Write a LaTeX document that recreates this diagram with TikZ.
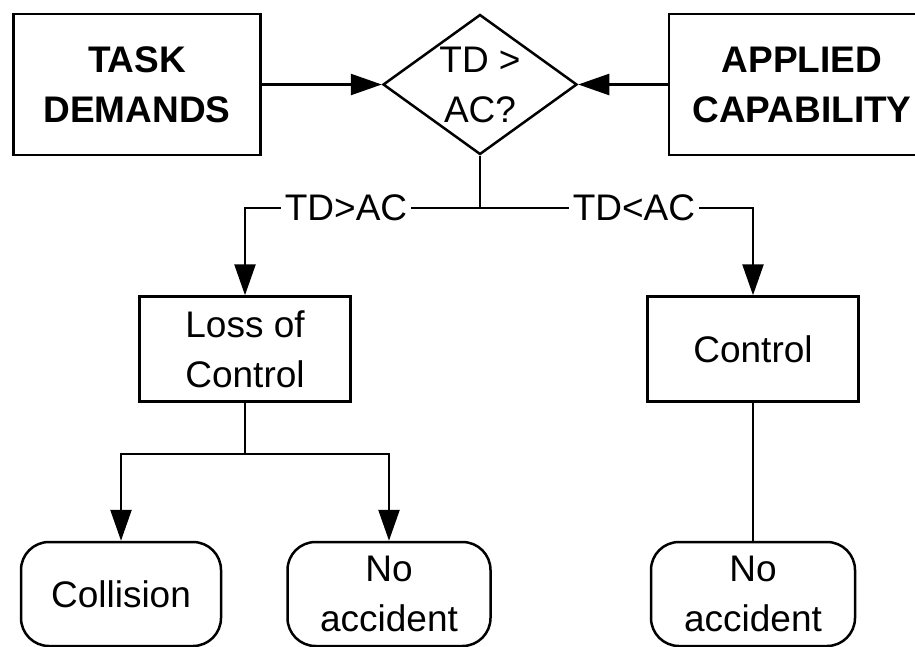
\documentclass[tikz,border=0pt]{standalone}
\usepackage{fontspec}
\setmainfont{Liberation Sans}
\usetikzlibrary{arrows.meta,shapes.geometric}
\tikzset{
  bigtext/.style={font=\fontsize{37}{50}\selectfont},
  boldtext/.style={font=\fontsize{37}{50}\selectfont\bfseries},
  box/.style={draw, rectangle, align=center, inner sep=0pt, bigtext},
  endbox/.style={box, rounded corners=28pt},
  decision/.style={draw, diamond, aspect=1.4, inner sep=0pt, align=center, bigtext},
  arr/.style={-{Triangle[length=31pt,width=21pt]}},
  lab/.style={fill=white, inner sep=4pt, bigtext}
}
\begin{document}
\begin{tikzpicture}[x=1pt, y=-1pt, line width=2.5pt]
\useasboundingbox (0,0) rectangle (915,646);

\node[box, boldtext, minimum width=247pt, minimum height=141pt] (td) at (137,84.5) {TASK\\DEMANDS};
\node[decision, minimum width=194pt, minimum height=140pt] (q) at (480,84.5) {TD >\\AC?};
\node[box, boldtext, minimum width=266pt, minimum height=141pt] (ac) at (802,84.5) {APPLIED\\CAPABILITY};

\node[box, minimum width=211pt, minimum height=105pt] (loc) at (245,349) {Loss of\\Control};
\node[box, minimum width=211pt, minimum height=105pt] (ctl) at (753,349) {Control};

\node[endbox, minimum width=200pt, minimum height=104pt] (col) at (121,594) {Collision};
\node[endbox, minimum width=203pt, minimum height=104pt] (na1) at (389,594) {No\\accident};
\node[endbox, minimum width=204pt, minimum height=104pt] (na2) at (753,594) {No\\accident};

\coordinate (j1) at (480,208);
\coordinate (j2) at (245,454);

\draw[arr] (td.east) -- (q.west);
\draw[arr] (ac.west) -- (q.east);
\draw (q.south) -- (j1);
\draw[arr] (j1) -| node[lab, pos=0.285] {TD>AC} (loc.north);
\draw[arr] (j1) -| node[lab, pos=0.282] {TD<AC} (ctl.north);
\draw (loc.south) -- (j2);
\draw[arr] (j2) -| (col.north);
\draw[arr] (j2) -| (na1.north);
\draw (ctl.south) -- (na2.north);
\end{tikzpicture}
\end{document}
